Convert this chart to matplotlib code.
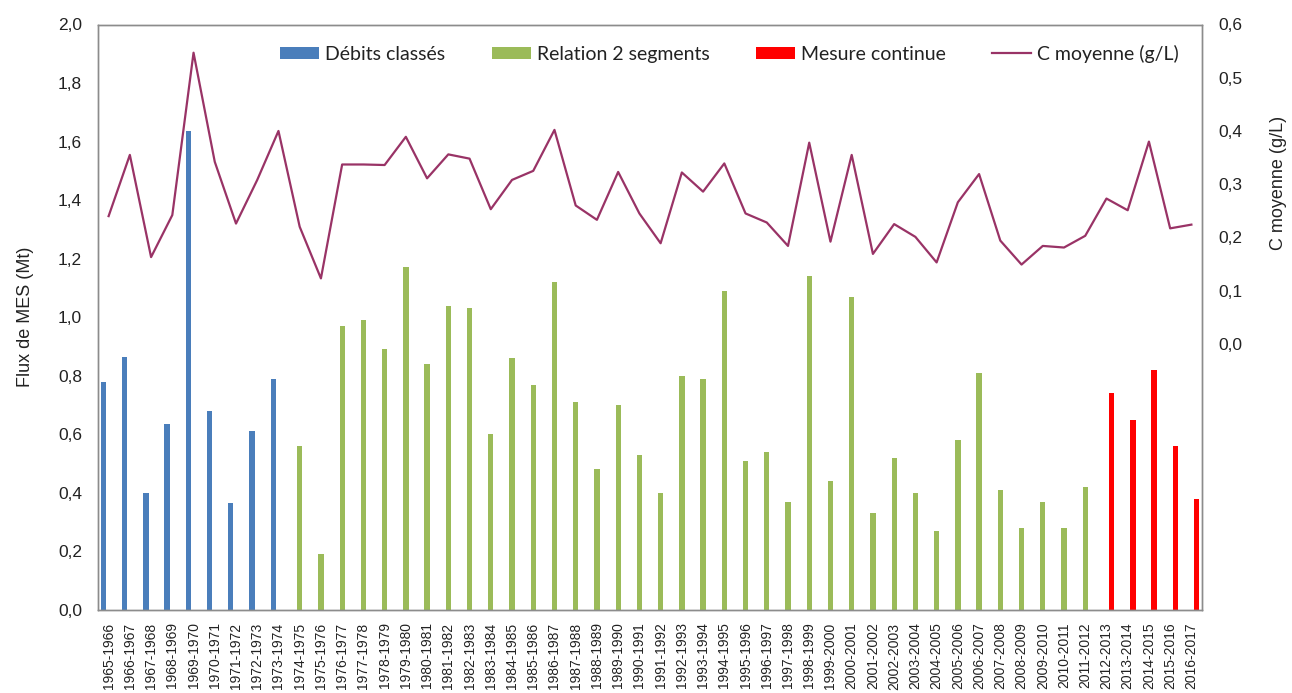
import numpy as np
import matplotlib
matplotlib.use('Agg')
import matplotlib.pyplot as plt
from matplotlib.ticker import FixedLocator, FuncFormatter

# categories (hydrological years)
periodes = ['1965-1966', '1966-1967', '1967-1968', '1968-1969', '1969-1970', '1970-1971',
            '1971-1972', '1972-1973', '1973-1974', '1974-1975', '1975-1976', '1976-1977',
            '1977-1978', '1978-1979', '1979-1980', '1980-1981', '1981-1982', '1982-1983',
            '1983-1984', '1984-1985', '1985-1986', '1986-1987', '1987-1988', '1988-1989',
            '1989-1990', '1990-1991', '1991-1992', '1992-1993', '1993-1994', '1994-1995',
            '1995-1996', '1996-1997', '1997-1998', '1998-1999', '1999-2000', '2000-2001',
            '2001-2002', '2002-2003', '2003-2004', '2004-2005', '2005-2006', '2006-2007',
            '2007-2008', '2008-2009', '2009-2010', '2010-2011', '2011-2012', '2012-2013',
            '2013-2014', '2014-2015', '2015-2016', '2016-2017']

# flux de MES (Mt) per method
debits_classes = [0.78, 0.865, 0.40, 0.635, 1.635, 0.68, 0.365, 0.61, 0.79]          # 1965-1974
relation_2seg = [0.56, 0.19, 0.97, 0.99, 0.89, 1.17, 0.84, 1.04, 1.03, 0.60,
                 0.86, 0.77, 1.12, 0.71, 0.48, 0.70, 0.53, 0.40, 0.80, 0.79,
                 1.09, 0.51, 0.54, 0.37, 1.14, 0.44, 1.07, 0.33, 0.52, 0.40,
                 0.27, 0.58, 0.81, 0.41, 0.28, 0.37, 0.28, 0.42]                      # 1974-2012
mesure_continue = [0.74, 0.65, 0.82, 0.56, 0.38]                                      # 2012-2017

# concentration moyenne (g/L)
c_moyenne = [0.240, 0.355, 0.163, 0.242, 0.547, 0.342, 0.226, 0.308, 0.400, 0.220,
             0.123, 0.337, 0.337, 0.336, 0.389, 0.311, 0.356, 0.348, 0.253, 0.308,
             0.325, 0.402, 0.260, 0.233, 0.323, 0.245, 0.189, 0.322, 0.286, 0.339,
             0.245, 0.228, 0.184, 0.378, 0.192, 0.355, 0.169, 0.225, 0.201, 0.153,
             0.266, 0.319, 0.194, 0.149, 0.184, 0.181, 0.203, 0.273, 0.251, 0.380,
             0.217, 0.224]

n = len(periodes)
x = np.arange(n)
nb_b = len(debits_classes)
nb_g = len(relation_2seg)

# full-length series with NaN where a method is not used (like excel clustered bars)
bleu = np.full(n, np.nan); bleu[:nb_b] = debits_classes
vert = np.full(n, np.nan); vert[nb_b:nb_b + nb_g] = relation_2seg
rouge = np.full(n, np.nan); rouge[nb_b + nb_g:] = mesure_continue

fmt = FuncFormatter(lambda v, p: f'{v:.1f}'.replace('.', ','))

fig = plt.figure(figsize=(12.92, 6.93), dpi=100)
ax = fig.add_axes([98/1292, 83/693, 1104/1292, 585.5/693])
ax2 = ax.twinx()

w = 0.25
off = 0.245
b1 = ax.bar(x - off, bleu, width=w, color='#4A7EBB', label='Débits classés')
b2 = ax.bar(x, vert, width=w, color='#9BBB59', label='Relation 2 segments')
b3 = ax.bar(x + off, rouge, width=w, color='#FF0000', label='Mesure continue')
l1, = ax2.plot(x, c_moyenne, color='#993366', lw=1.6, label='C moyenne (g/L)')

ax.set_xlim(-0.5, n - 0.5)
ax.set_ylim(0, 2.0)
ax.yaxis.set_major_locator(FixedLocator(np.arange(0, 2.01, 0.2)))
ax.yaxis.set_major_formatter(fmt)
ax2.set_ylim(-0.5, 0.6)
ax2.yaxis.set_major_locator(FixedLocator(np.arange(0, 0.61, 0.1)))
ax2.yaxis.set_major_formatter(fmt)

ax.set_xticks(x)
ax.set_xticklabels(periodes, rotation=90, fontsize=10, family='Liberation Sans', color='#222222')
ax.tick_params(axis='x', length=0, pad=9)
ax.tick_params(axis='y', length=0, pad=11.5, labelsize=12.5, labelcolor='#222222')
ax2.tick_params(axis='y', length=0, pad=11.5, labelsize=12.5, labelcolor='#222222')
for lab in ax.get_yticklabels() + ax2.get_yticklabels():
    lab.set_family('Liberation Sans')

for a in (ax, ax2):
    for s in a.spines.values():
        s.set_color('#8C8C8C')
        s.set_linewidth(1.0)

ax.set_ylabel('Flux de MES (Mt)', fontsize=13, family='Liberation Sans', color='#222222')
ax.yaxis.set_label_coords(-0.058, 0.5)
ax2.set_ylabel('C moyenne (g/L)', fontsize=13, family='Liberation Sans', color='#222222')
ax2.yaxis.set_label_coords(1.062, 0.73)

leg = ax.legend(handles=[b1, b2, b3, l1], loc='upper center', bbox_to_anchor=(0.572, 0.995),
                ncol=4, frameon=False, prop={'family': 'Lato', 'size': 14},
                handlelength=2.0, handleheight=0.6, handletextpad=0.3, columnspacing=2.4)
for t in leg.get_texts():
    t.set_color('#222222')

fig.savefig('out.png', dpi=100)
